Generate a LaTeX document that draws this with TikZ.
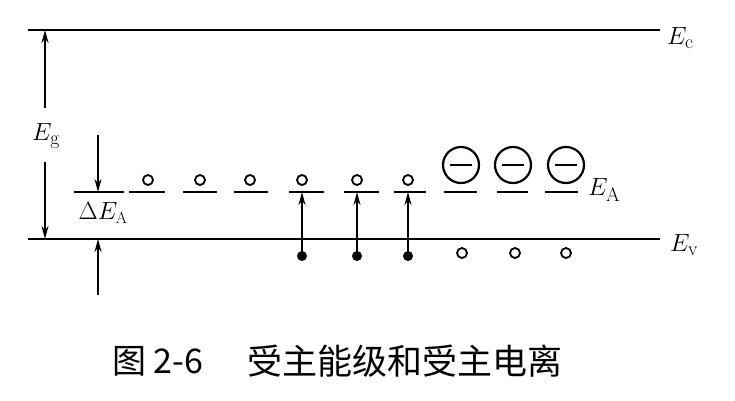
\documentclass[tikz,border=0pt]{standalone}
\usepackage{fontspec}
\newfontfamily\cjk{Noto Sans CJK SC}
\usetikzlibrary{arrows.meta, positioning}

\begin{document}
\begin{tikzpicture}[x=1pt, y=-1pt, >={Stealth[length=13pt, width=7pt]},
    band/.style = {line width=2pt},
    level/.style = {line width=1.7pt},
    arr/.style = {->, line width=1.5pt},
    hole/.style = {circle, draw, line width=1.8pt, minimum size=10pt, inner sep=0pt},
    elec/.style = {circle, fill, minimum size=10pt, inner sep=0pt},
    ion/.style = {circle, draw, line width=2.2pt, minimum size=36pt, inner sep=0pt},
    lbl/.style = {font=\fontsize{28}{30}\selectfont, inner sep=0pt}]
   \useasboundingbox (0,0) rectangle (735,400);

   % bands
   \coordinate (ca) at (28,30);  \coordinate (cb) at (660,30);
   \coordinate (va) at (28,239); \coordinate (vb) at (660,239);
   \draw[band] (ca) -- (cb);
   \draw[band] (va) -- (vb);
   \node (ec)[lbl, anchor=west] at (667,38) {$E_{\mathrm{c}}$};
   \node (ev)[lbl, anchor=west] at (670,245) {$E_{\mathrm{v}}$};

   % gap
   \node (eg)[lbl] at (46,136) {$E_{\mathrm{g}}$};
   \coordinate (g1) at (45,108); \coordinate (g2) at (45,162);
   \coordinate (gc) at (45,30);  \coordinate (gv) at (45,239);
   \draw[arr] (g1) -- (gc);
   \draw[arr] (g2) -- (gv);

   % acceptor levels
   \foreach \a/\b [count=\i] in {74/124, 129/165, 183/217, 234/268, 289/324,
                                 344/379, 394/426, 444/477, 497/528, 545/578}
      \draw[level] (\a,192) coordinate (l\i a) -- (\b,192) coordinate (l\i b);
   \node (ea)[lbl, anchor=west] at (588,190) {$E_{\mathrm{A}}$};

   % ionization energy
   \coordinate (d1) at (98,135); \coordinate (d2) at (98,192);
   \coordinate (d3) at (98,295); \coordinate (d4) at (98,239);
   \draw[arr] (d1) -- (d2);
   \draw[arr] (d3) -- (d4);
   \node (dea)[lbl, font=\fontsize{23}{25}\selectfont] at (103,213) {$\Delta E_{\mathrm{A}}$};

   % empty acceptors
   \foreach \x [count=\i] in {148, 200, 250, 302, 357, 408}
      \node (h\i)[hole] at (\x,180) {};

   % ionized acceptors
   \foreach \x [count=\i] in {461, 513, 566} {
      \node (n\i)[ion] at (\x,165) {};
      \draw[line width=1.6pt] ([xshift=-11pt]n\i.center) -- ([xshift=11pt]n\i.center);
   }

   % electrons excited from valence band
   \foreach \x [count=\i] in {302, 357, 408} {
      \node (e\i)[elec] at (\x,256) {};
      \coordinate (t\i) at (\x,192);
      \draw[arr] (e\i.center) -- (t\i);
   }

   % holes left in valence band
   \foreach \x [count=\i] in {462, 515, 566}
      \node (p\i)[hole] at (\x,253) {};

   % caption
   \node (cap1)[anchor=west, inner sep=0pt, font=\cjk\fontsize{34}{36}\selectfont] at (112,361) {图 2-6};
   \node (cap2)[anchor=west, inner sep=0pt, font=\cjk\fontsize{35}{37}\selectfont] at (247,361) {受主能级和受主电离};
\end{tikzpicture}
\end{document}
